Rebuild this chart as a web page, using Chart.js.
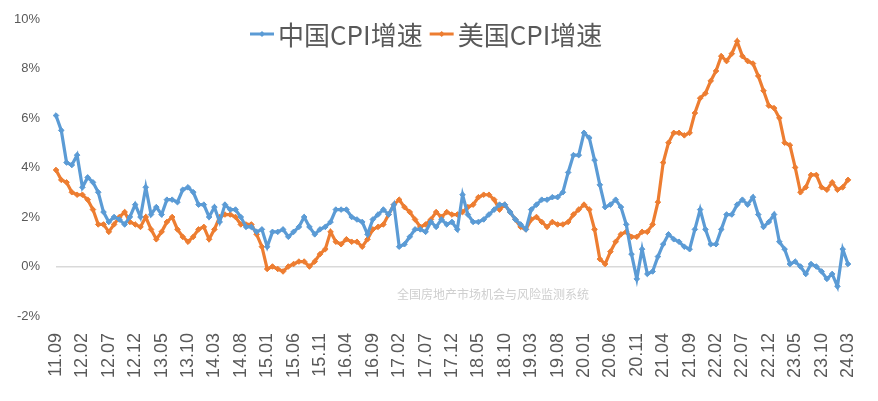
<!DOCTYPE html>
<html>
<head>
<meta charset="utf-8">
<script src="https://cdn.jsdelivr.net/npm/chart.js@4/dist/chart.umd.min.js"></script>
<style>
  body { margin: 0; background: #fff; }
  #wrap { width: 878px; height: 401px; }
</style>
</head>
<body>
<div id="wrap"><canvas id="cpiChart" width="878" height="401"></canvas></div>
<script>
// 2011.09 - 2024.03, monthly
var startYear = 2011, startMonth = 9, monthCount = 151;
var seriesNames = ["中国CPI增速", "美国CPI增速"];
var yTicks = [-2, 0, 2, 4, 6, 8, 10];

var chinaCpi = [
  6.1, 5.5, 4.2, 4.1,
  4.5, 3.2, 3.6, 3.4, 3.0, 2.2, 1.8, 2.0, 1.9, 1.7, 2.0, 2.5,
  2.0, 3.2, 2.1, 2.4, 2.1, 2.7, 2.7, 2.6, 3.1, 3.2, 3.0, 2.5,
  2.5, 2.0, 2.4, 1.8, 2.5, 2.3, 2.3, 2.0, 1.6, 1.6, 1.4, 1.5,
  0.8, 1.4, 1.4, 1.5, 1.2, 1.4, 1.6, 2.0, 1.6, 1.3, 1.5, 1.6,
  1.8, 2.3, 2.3, 2.3, 2.0, 1.9, 1.8, 1.3, 1.9, 2.1, 2.3, 2.1,
  2.5, 0.8, 0.9, 1.2, 1.5, 1.5, 1.4, 1.8, 1.6, 1.9, 1.7, 1.8,
  1.5, 2.9, 2.1, 1.8, 1.8, 1.9, 2.1, 2.3, 2.5, 2.5, 2.2, 1.9,
  1.7, 1.5, 2.3, 2.5, 2.7, 2.7, 2.8, 2.8, 3.0, 3.8, 4.5, 4.5,
  5.4, 5.2, 4.3, 3.3, 2.4, 2.5, 2.7, 2.4, 1.7, 0.5, -0.5, 0.7,
  -0.3, -0.2, 0.4, 0.9, 1.3, 1.1, 1.0, 0.8, 0.7, 1.5, 2.3, 1.5,
  0.9, 0.9, 1.5, 2.1, 2.1, 2.5, 2.7, 2.5, 2.8, 2.1, 1.6, 1.8,
  2.1, 1.0, 0.7, 0.1, 0.2, 0.0, -0.3, 0.1, 0.0, -0.2, -0.5, -0.3,
  -0.8, 0.7, 0.1
];

var usCpi = [
  3.9, 3.5, 3.4, 3.0,
  2.9, 2.9, 2.7, 2.3, 1.7, 1.7, 1.4, 1.7, 2.0, 2.2, 1.8, 1.7,
  1.6, 2.0, 1.5, 1.1, 1.4, 1.8, 2.0, 1.5, 1.2, 1.0, 1.2, 1.5,
  1.6, 1.1, 1.5, 2.0, 2.1, 2.1, 2.0, 1.7, 1.7, 1.7, 1.3, 0.8,
  -0.1, 0.0, -0.1, -0.2, 0.0, 0.1, 0.2, 0.2, 0.0, 0.2, 0.5, 0.7,
  1.4, 1.0, 0.9, 1.1, 1.0, 1.0, 0.8, 1.1, 1.5, 1.6, 1.7, 2.1,
  2.5, 2.7, 2.4, 2.2, 1.9, 1.6, 1.7, 1.9, 2.2, 2.0, 2.2, 2.1,
  2.1, 2.2, 2.4, 2.5, 2.8, 2.9, 2.9, 2.7, 2.3, 2.5, 2.2, 1.9,
  1.6, 1.5, 1.9, 2.0, 1.8, 1.6, 1.8, 1.7, 1.7, 1.8, 2.1, 2.3,
  2.5, 2.3, 1.5, 0.3, 0.1, 0.6, 1.0, 1.3, 1.4, 1.2, 1.2, 1.4,
  1.4, 1.7, 2.6, 4.2, 5.0, 5.4, 5.4, 5.3, 5.4, 6.2, 6.8, 7.0,
  7.5, 7.9, 8.5, 8.3, 8.6, 9.1, 8.5, 8.3, 8.2, 7.7, 7.1, 6.5,
  6.4, 6.0, 5.0, 4.9, 4.0, 3.0, 3.2, 3.7, 3.7, 3.2, 3.1, 3.4,
  3.1, 3.2, 3.5
];

var months = [];
for (var i = 0; i < monthCount; i++) {
  var m = startMonth - 1 + i;
  var yy = (startYear + Math.floor(m / 12)) % 100;
  var mm = (m % 12) + 1;
  months.push(String(yy).padStart(2, "0") + "." + String(mm).padStart(2, "0"));
}

var blue = "#5B9BD5";
var orange = "#ED7D31";
var textColor = "#595959";

// little legend: line with diamond, drawn over the plot like the original
var legendPlugin = {
  id: "topLegend",
  afterDraw: function (chart) {
    var ctx = chart.ctx;
    var colors = [blue, orange];
    var x = 250, y = 34;
    ctx.save();
    ctx.font = "26px 'Noto Sans CJK SC'";
    ctx.textBaseline = "middle";
    ctx.textAlign = "left";
    seriesNames.forEach(function (name, k) {
      ctx.strokeStyle = colors[k];
      ctx.fillStyle = colors[k];
      ctx.lineWidth = 3;
      ctx.beginPath();
      ctx.moveTo(x, y);
      ctx.lineTo(x + 24, y);
      ctx.stroke();
      ctx.beginPath();
      ctx.moveTo(x + 12, y - 3);
      ctx.lineTo(x + 15, y);
      ctx.lineTo(x + 12, y + 3);
      ctx.lineTo(x + 9, y);
      ctx.closePath();
      ctx.fill();
      ctx.fillStyle = textColor;
      ctx.fillText(name, x + 28, y + 1);
      x += 28 + ctx.measureText(name).width + 7;
    });
    // watermark
    ctx.font = "12px 'Noto Sans CJK SC'";
    ctx.fillStyle = "#cfcfcf";
    ctx.textAlign = "center";
    ctx.fillText("全国房地产市场机会与风险监测系统", 493, 294);
    ctx.restore();
  }
};

var ctx = document.getElementById("cpiChart").getContext("2d");
var cpiChart = new Chart(ctx, {
  type: "line",
  data: {
    labels: months,
    datasets: [
      {
        label: seriesNames[0],
        data: chinaCpi,
        borderColor: blue,
        backgroundColor: blue,
        borderWidth: 3.2,
        pointStyle: "rectRot",
        pointRadius: 2.8,
        pointBorderWidth: 1,
        tension: 0,
      },
      {
        label: seriesNames[1],
        data: usCpi,
        borderColor: orange,
        backgroundColor: orange,
        borderWidth: 3.2,
        pointStyle: "rectRot",
        pointRadius: 2.8,
        pointBorderWidth: 1,
        tension: 0,
      },
    ],
  },
  options: {
    responsive: false,
    animation: false,
    layout: { padding: { left: 0, right: 30, top: 19, bottom: 0 } },
    plugins: {
      legend: { display: false },
      tooltip: { enabled: false },
    },
    scales: {
      x: {
        offset: false,
        grid: { display: false, drawTicks: false },
        border: { display: false },
        ticks: {
          autoSkip: false,
          maxRotation: 90,
          minRotation: 90,
          padding: 17,
          color: textColor,
          font: { family: "'Liberation Sans', 'Noto Sans'", size: 18 },
          callback: function (val, idx) {
            return idx % 5 === 0 ? months[idx] : null;
          },
        },
        afterFit: function (scale) {
          scale.height = 85;
          scale.paddingLeft = 0;
          scale.paddingRight = 0;
        },
      },
      y: {
        min: yTicks[0],
        max: yTicks[yTicks.length - 1],
        afterBuildTicks: function (scale) {
          scale.ticks = yTicks.map(function (v) { return { value: v }; });
        },
        grid: {
          drawTicks: false,
          color: function (c) { return c.tick && c.tick.value === 0 ? "#d9d9d9" : "rgba(0,0,0,0)"; },
          lineWidth: 1.5,
        },
        border: { display: false },
        ticks: {
          padding: 16,
          color: textColor,
          font: { family: "'Liberation Sans', 'Noto Sans'", size: 13 },
          callback: function (v) { return v + "%"; },
        },
        afterFit: function (scale) {
          scale.width = 56;
          scale.paddingTop = 0;
          scale.paddingBottom = 0;
        },
      },
    },
  },
  plugins: [legendPlugin],
});
</script>
</body>
</html>
